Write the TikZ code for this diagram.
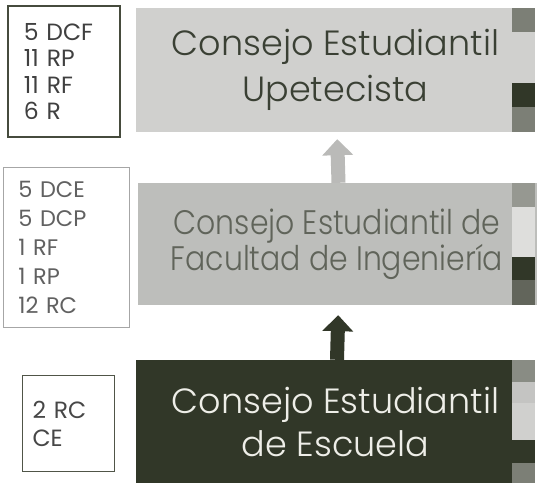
\documentclass[tikz,border=0pt]{standalone}
\usepackage{fontspec}
\setmainfont{Poppins}
\IfFontExistsTF{Poppins Light}
  {\newfontfamily\councilfont{Poppins Light}}
  {\newfontfamily\councilfont{Poppins}}
\usetikzlibrary{positioning,arrows.meta}

\definecolor{barLight}{RGB}{208,208,206}
\definecolor{barMid}{RGB}{189,190,187}
\definecolor{barDark}{RGB}{49,55,40}
\definecolor{txtDark}{RGB}{58,64,52}
\definecolor{txtMid}{RGB}{96,100,90}
\definecolor{txtPale}{RGB}{238,238,232}
\definecolor{arrowLight}{RGB}{186,186,184}
\definecolor{stripGray}{RGB}{124,127,118}
\definecolor{stripPale}{RGB}{222,222,220}
\definecolor{stripSoft}{RGB}{196,196,194}

\tikzset{
  council/.style={minimum width=399pt,inner sep=0pt,align=center},
  members/.style={draw,anchor=north west,align=left,inner ysep=0pt},
  riseup/.style={line width=14pt,-{Triangle[width=30pt,length=16pt]}},
}

\begin{document}
\begin{tikzpicture}[x=1pt,y=-1pt]
\path[use as bounding box,fill=white] (0,0) rectangle (538,486);

% consejos
\node[council,fill=barLight,text=txtDark,minimum height=124pt,
  font=\councilfont\fontsize{35}{46}\selectfont] (upetecista) at (335.5,70)
  {Consejo Estudiantil\\Upetecista};
\node[council,fill=barMid,text=txtMid,minimum height=122pt,
  font=\councilfont\addfontfeatures{FakeStretch=0.88}\fontsize{34}{36}\selectfont] (facultad) at (337,244)
  {Consejo Estudiantil de\\Facultad de Ingenier\'ia};
\node[council,fill=barDark,text=txtPale,minimum height=123pt,
  font=\councilfont\fontsize{35}{43}\selectfont] (escuela) at (335.5,421.5)
  {Consejo Estudiantil\\de Escuela};

% franjas de color
\foreach \ya/\yb/\c in {8/32/stripGray,32/83/barLight,83/107/barDark,107/132/stripGray,
  183/207/stripGray!80,207/257/stripPale,257/280/barDark,280/305/stripGray!120,
  360/382/stripGray!90,382/403/stripSoft,403/440/barLight,440/463/barDark,463/483/stripGray}
  \fill[\c] (512,\ya) rectangle (535,\yb);

% integrantes
\node[members,line width=1.8pt,draw=barDark!90,text=black!75,minimum width=112pt,minimum height=131pt,
  inner xsep=16pt,text width=80pt,font=\fontsize{23.5}{26.3}\selectfont] (upetecistaMembers) at (7,5)
  {5 DCF\\11 RP\\11 RF\\6 R};
\node[members,line width=0.8pt,draw=black!35,text=black!62,minimum width=126pt,minimum height=160pt,
  inner xsep=15pt,text width=96pt,font=\fontsize{22.5}{29}\selectfont] (facultadMembers) at (3,167)
  {5 DCE\\5 DCP\\1 RF\\1 RP\\12 RC};
\node[members,line width=1.2pt,draw=barDark!85,text=black!72,minimum width=92pt,minimum height=96pt,
  inner xsep=10pt,text width=72pt,font=\fontsize{23.5}{28}\selectfont] (escuelaMembers) at (22,375)
  {2 RC\\CE};

% flechas
\draw[riseup,arrowLight,shorten >=7pt] ([xshift=1.5pt]facultad.north) -- ([xshift=1.5pt]upetecista.south);
\draw[riseup,barDark,shorten >=10pt] ([xshift=1.5pt]escuela.north) -- ([xshift=1.5pt]facultad.south);
\end{tikzpicture}
\end{document}
